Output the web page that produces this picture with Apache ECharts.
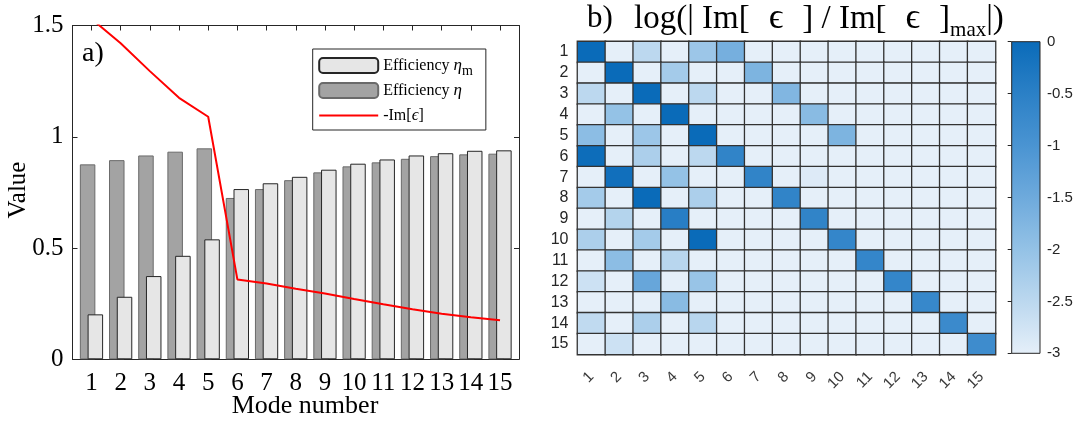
<!DOCTYPE html>
<html><head><meta charset="utf-8">
<script src="https://cdn.jsdelivr.net/npm/echarts@6/dist/echarts.min.js"></script>
<style>html,body{margin:0;padding:0;background:#fff}#c{width:1083px;height:426px}</style>
</head><body><div id="c"></div>
<script>
// ---- data (panel a) ----
const modes = [1,2,3,4,5,6,7,8,9,10,11,12,13,14,15];
const etaM  = [0.202,0.281,0.374,0.465,0.539,0.765,0.791,0.820,0.852,0.879,0.898,0.916,0.926,0.937,0.939];
const eta   = [0.876,0.895,0.916,0.933,0.948,0.725,0.765,0.805,0.840,0.867,0.885,0.901,0.913,0.921,0.924];
const imEps = [1.53,1.42,1.295,1.175,1.09,0.359,0.341,0.317,0.296,0.271,0.247,0.225,0.205,0.189,0.176];
const valueTicks = [0,0.5,1,1.5];
// ---- data (panel b) ----
const matLabels = ['1','2','3','4','5','6','7','8','9','10','11','12','13','14','15'];
const logIm = [
 [ 0,   -3,  -2.5, -3,   -2.1, -1.6, -3,  -3,   -3,   -3,   -3,   -3,   -3,  -3,   -3 ],
 [-3,    0,  -3,   -2.2, -3,   -3,   -1.7,-3,   -3,   -3,   -3,   -3,   -3,  -3,   -3 ],
 [-2.5, -3,   0,   -3,   -2.5, -3,   -3,  -1.75,-3,   -3,   -3,   -3,   -3,  -3,   -3 ],
 [-3,   -2.0,-3,    0,   -3,   -3,   -3,  -3,   -1.85,-3,   -3,   -3,   -3,  -3,   -3 ],
 [-1.9, -3,  -2.1, -3,    0,   -3,   -3,  -3,   -3,   -1.7, -3,   -3,   -3,  -3,   -3 ],
 [-0.05,-3,  -2.3, -3,   -2.5, -0.6, -3,  -3,   -3,   -3,   -3,   -3,   -3,  -3,   -3 ],
 [-3,   -0.1,-3,   -2.0, -3,   -3,   -0.6,-3,   -2.9, -3,   -3,   -3,   -3,  -3,   -3 ],
 [-2.2, -3,   0,   -3,   -2.3, -3,   -3,  -0.6, -3,   -3,   -3,   -3,   -3,  -3,   -3 ],
 [-3,   -2.4,-3,   -0.45,-3,   -3,   -3,  -3,   -0.6, -3,   -3,   -3,   -3,  -3,   -3 ],
 [-2.3, -3,  -2.2, -3,    0,   -3,   -3,  -3,   -3,   -0.65,-3,   -3,   -3,  -3,   -3 ],
 [-3,   -1.9,-3,   -2.45,-3,   -3,   -3,  -3,   -3,   -3,   -0.65,-3,   -3,  -3,   -3 ],
 [-2.7, -3,  -1.4, -3,   -2.05,-3,   -3,  -3,   -3,   -3,   -3,   -0.65,-3,  -3,   -3 ],
 [-3,   -3,  -3,   -1.85,-3,   -3,   -3,  -3,   -3,   -3,   -3,   -3,  -0.7, -3,   -3 ],
 [-2.55,-3,  -2.3, -3,   -2.45,-3,   -3,  -3,   -3,   -3,   -3,   -3,   -3,  -0.75,-3 ],
 [-3,   -2.7,-3,   -3,   -3,   -3,   -3,  -3,   -3,   -3,   -3,   -3,   -3,  -3,   -0.8]
];
const cbTicks = [0,-0.5,-1,-1.5,-2,-2.5,-3];
const cbMin = -3, cbMax = 0;

const SERIF = 'Liberation Serif';
const SANS = 'Liberation Sans';
const AX = '#262626';
const cmap = ['#e5eff9','#bcd8ef','#94c2e6','#6eaadc','#4a94d2','#2b80c6','#0a6bb9'];

const heatData = [];
logIm.forEach((row, i) => row.forEach((v, j) => heatData.push([j, i, v])));

const chart = echarts.init(document.getElementById('c'), null, {renderer: 'canvas'});
const serifLabel = {fontFamily: SERIF, fontSize: 25, color: '#000'};
const option = {
  backgroundColor: '#fff',
  animation: false,
  grid: [
    {left: 72.5, top: 25.5, width: 446.5, height: 333.8},
    {left: 577.5, top: 41.5, width: 418, height: 313},
    {left: 1011.7, top: 41.7, width: 28.3, height: 311.6, show: true,
     backgroundColor: new echarts.graphic.LinearGradient(0, 0, 0, 1,
        cmap.slice().reverse().map((c, k) => ({offset: k / (cmap.length - 1), color: c}))),
     borderColor: AX, borderWidth: 1}
  ],
  xAxis: [
    {gridIndex: 0, type: 'value', min: 0.35, max: 15.65, position: 'bottom',
     axisLine: {show: true, onZero: false, lineStyle: {color: AX, width: 1}},
     axisTick: {show: true, inside: true, length: 5, customValues: modes, lineStyle: {color: AX}},
     axisLabel: Object.assign({customValues: modes, margin: 12}, serifLabel),
     splitLine: {show: false}},
    {gridIndex: 0, type: 'value', min: 0.35, max: 15.65, position: 'top',
     axisLine: {show: true, onZero: false, lineStyle: {color: AX, width: 1}},
     axisTick: {show: true, inside: true, length: 5, customValues: modes, lineStyle: {color: AX}},
     axisLabel: {show: false}, splitLine: {show: false}},
    {gridIndex: 1, type: 'category', data: matLabels,
     axisLine: {show: false}, axisTick: {show: false},
     axisLabel: {rotate: 45, fontFamily: SANS, fontSize: 15, color: '#3a3a3a', margin: 20}},
    {gridIndex: 2, type: 'value', show: false, min: 0, max: 1}
  ],
  yAxis: [
    {gridIndex: 0, type: 'value', min: 0, max: 1.5, interval: 0.5,
     axisLine: {show: true, onZero: false, lineStyle: {color: AX, width: 1}},
     axisTick: {show: true, inside: true, length: 5, lineStyle: {color: AX}},
     axisLabel: Object.assign({margin: 9}, serifLabel),
     splitLine: {show: false}},
    {gridIndex: 0, type: 'value', min: 0, max: 1.5, interval: 0.5, position: 'right',
     axisLine: {show: true, onZero: false, lineStyle: {color: AX, width: 1}},
     axisTick: {show: true, inside: true, length: 5, lineStyle: {color: AX}},
     axisLabel: {show: false}, splitLine: {show: false}},
    {gridIndex: 1, type: 'category', data: matLabels, inverse: true,
     axisLine: {show: false}, axisTick: {show: false},
     axisLabel: {fontFamily: SANS, fontSize: 16, color: AX, margin: 9}},
    {gridIndex: 2, type: 'value', min: cbMin, max: cbMax, interval: 0.5, position: 'right',
     axisLine: {show: false},
     axisTick: {show: true, inside: true, length: 4, lineStyle: {color: AX}},
     axisLabel: {fontFamily: SANS, fontSize: 15, color: AX, margin: 7},
     splitLine: {show: false}}
  ],
  visualMap: {show: false, type: 'continuous', min: cbMin, max: cbMax, seriesIndex: 3,
              inRange: {color: cmap}},
  legend: {
    orient: 'vertical', left: 312.7, top: 49,
    padding: [4, 13, 2, 5.5],
    itemWidth: 59, itemHeight: 15, itemGap: 0,
    borderColor: AX, borderWidth: 1, backgroundColor: '#fff',
    data: ['Efficiency ηm', 'Efficiency η', {name: '-Im[ϵ]', itemStyle: {opacity: 0}}],
    formatter: function (n) {
      if (n === 'Efficiency ηm') return 'Efficiency {i|η}{s|m}';
      if (n === 'Efficiency η') return 'Efficiency {i|η}';
      return '-Im[{i|ϵ}]';
    },
    textStyle: {fontFamily: SERIF, fontSize: 16, color: '#000', lineHeight: 25,
      rich: {i: {fontFamily: SERIF, fontSize: 17, fontStyle: 'italic', color: '#000', lineHeight: 25},
             s: {fontFamily: SERIF, fontSize: 14, color: '#000', verticalAlign: 'bottom', lineHeight: 25}}}
  },
  series: [
    {name: 'Efficiency η', type: 'bar', xAxisIndex: 0, yAxisIndex: 0,
     data: modes.map((m, k) => [m, eta[k]]), barWidth: 15.5, barGap: '-50%',
     itemStyle: {color: '#a3a3a3', borderColor: '#6a6a6a', borderWidth: 1}},
    {name: 'Efficiency ηm', type: 'bar', xAxisIndex: 0, yAxisIndex: 0,
     data: modes.map((m, k) => [m, etaM[k]]), barWidth: 15.5, barGap: '-50%',
     itemStyle: {color: '#e6e6e6', borderColor: '#262626', borderWidth: 1}},
    {name: '-Im[ϵ]', type: 'line', xAxisIndex: 0, yAxisIndex: 0,
     data: modes.map((m, k) => [m, imEps[k]]), symbol: 'none', clip: true, z: 5,
     lineStyle: {color: '#ff0000', width: 2}, itemStyle: {color: '#ff0000'}},
    {name: 'logIm', type: 'heatmap', xAxisIndex: 2, yAxisIndex: 2, data: heatData,
     itemStyle: {borderColor: '#333333', borderWidth: 1.3}}
  ],
  graphic: [
    {type: 'text', left: 82, top: 40, style: {text: 'a)', font: '28px "Liberation Serif"', fill: '#000'}},
    {type: 'text', x: 18, y: 190, rotation: Math.PI / 2,
     style: {text: 'Value', font: '25px "Liberation Serif"', fill: '#000', align: 'center', verticalAlign: 'middle'}},
    {type: 'text', x: 305, y: 406,
     style: {text: 'Mode number', font: '26px "Liberation Serif"', fill: '#000', align: 'center', verticalAlign: 'middle'}},
    {type: 'text', x: 587, y: 19,
     style: {text: 'b)', font: '31px "Liberation Serif"', fill: '#000', verticalAlign: 'middle'}},
    {type: 'text', x: 634, y: -3,
     style: {text: '{t|log(| Im[}{e|ϵ}{t|] / Im[}{e|ϵ}{t|]}{s|max}{t||)}',
       rich: {t: {fontFamily: SERIF, fontSize: 33, lineHeight: 44, fill: '#000', verticalAlign: 'middle'},
              e: {fontFamily: SERIF, fontSize: 36, lineHeight: 44, fill: '#000', verticalAlign: 'middle', padding: [0, 19, 0, 19]},
              s: {fontFamily: SERIF, fontSize: 21, lineHeight: 44, fill: '#000', verticalAlign: 'bottom'}}}}
  ]
};
chart.setOption(option);
</script>
</body></html>
